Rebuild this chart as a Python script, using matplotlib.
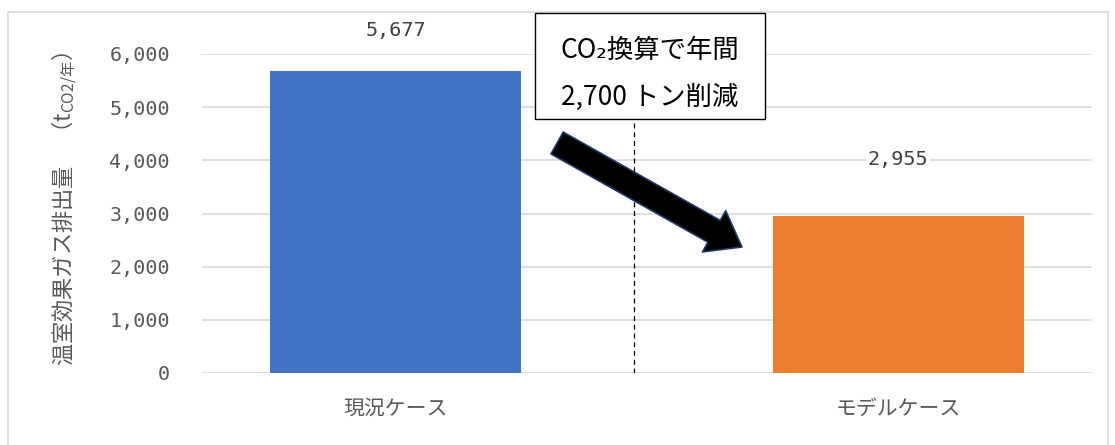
import matplotlib.pyplot as plt
from matplotlib.patches import FancyArrowPatch, Rectangle, ArrowStyle
from matplotlib.ticker import FuncFormatter

plt.rcParams['font.family'] = ['Noto Sans CJK JP', 'DejaVu Sans']
plt.rcParams['mathtext.fontset'] = 'custom'
plt.rcParams['mathtext.rm'] = 'Noto Sans CJK JP'

cases = ['現況ケース', 'モデルケース']
emissions = [5677, 2955]
bar_colors = ['#4472C4', '#ED7D31']
label_offsets = [41, 56]  # px above the bar top
yticks = [0, 1000, 2000, 3000, 4000, 5000, 6000]

fig = plt.figure(figsize=(11.15, 4.45), dpi=100)
ax = fig.add_axes([202 / 1115, 1 - 373 / 445, 890 / 1115, 319 / 445])

x = range(len(cases))
ax.bar(x, emissions, width=0.5, color=bar_colors, zorder=3)

ax.set_xlim(-0.386, 1.386)
ax.set_ylim(0, 6000)
ax.set_yticks(yticks)
ax.yaxis.set_major_formatter(FuncFormatter(lambda v, p: f'{v:,.0f}'))
ax.set_xticks(list(x))
ax.set_xticklabels(cases, fontsize=15, color='#595959')
for lab in ax.get_yticklabels():
    lab.set_family('DejaVu Sans Mono')
    lab.set_fontsize(14.5)
    lab.set_color('#595959')
ax.tick_params(axis='y', length=0, pad=23)
ax.tick_params(axis='x', length=0, pad=18)
ax.grid(axis='y', color='#d9d9d9', linewidth=1.2, zorder=0)
for s in ax.spines.values():
    s.set_visible(False)

# value labels
for xi, v, off in zip(x, emissions, label_offsets):
    ax.annotate(f'{v:,}', (xi, v), xytext=(0, off * 0.72), textcoords='offset points',
                ha='center', va='center', fontsize=14.5, color='#404040',
                family='DejaVu Sans Mono', annotation_clip=False,
                bbox=dict(facecolor='white', edgecolor='none', pad=1), zorder=4)

# dashed divider
ax.vlines(0.474, 0, 4780, colors='black', linestyles=(0, (4, 3)), linewidth=0.9, zorder=4)

# reduction arrow
arrow = FancyArrowPatch((0.321, 4326), (0.689, 2370),
                        arrowstyle=ArrowStyle.Simple(head_length=23, head_width=34, tail_width=18),
                        mutation_scale=1, shrinkA=0, shrinkB=0,
                        facecolor='black', edgecolor='#203864', linewidth=1.2, zorder=5)
ax.add_patch(arrow)

# callout box
fig.patches.append(Rectangle((535 / 1115, 1 - 119 / 445), 230 / 1115, 106 / 445,
                             transform=fig.transFigure, facecolor='white',
                             edgecolor='black', linewidth=1, zorder=6))
fig.text(650 / 1115, 1 - 50 / 445, 'CO₂換算で年間', ha='center', va='center',
         fontsize=19, color='black', zorder=7)
fig.text(650 / 1115, 1 - 97 / 445, '2,700 トン削減', ha='center', va='center',
         fontsize=19, color='black', zorder=7)

# y axis title
fig.text(64 / 1115, 1 - 366 / 445, '温室効果ガス排出量　（t$_{\\mathrm{CO2/年}}$）',
         rotation=90, ha='center', va='bottom', fontsize=16, color='#595959')

# chart frame
fig.patches.append(Rectangle((8 / 1115, -0.05), 1100 / 1115, 1.05 - 12 / 445,
                             transform=fig.transFigure, facecolor='none',
                             edgecolor='#d9d9d9', linewidth=1.2))

fig.savefig('out.png', dpi=100)
